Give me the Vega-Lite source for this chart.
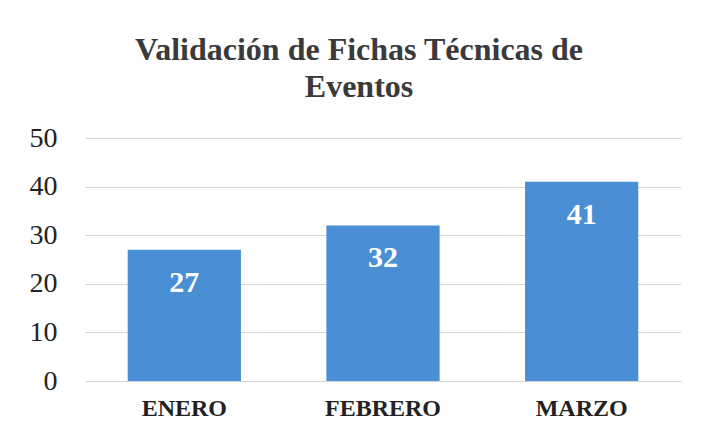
{
  "$schema": "https://vega.github.io/schema/vega-lite/v6.json",
  "autosize": "none",
  "width": 596,
  "height": 243,
  "padding": {"left": 85, "top": 138, "right": 25, "bottom": 53},
  "background": "white",
  "title": {
    "text": ["Validación de Fichas Técnicas de", "Eventos"],
    "font": "Times New Roman, Liberation Serif, serif",
    "fontSize": 32,
    "fontWeight": "bold",
    "color": "#3a3a3a",
    "anchor": "middle",
    "dx": -24,
    "offset": 20,
    "lineHeight": 37
  },
  "data": {
    "values": [
      {"mes": "ENERO", "valor": 27},
      {"mes": "FEBRERO", "valor": 32},
      {"mes": "MARZO", "valor": 41}
    ]
  },
  "encoding": {
    "x": {
      "field": "mes",
      "type": "nominal",
      "sort": null,
      "scale": {"paddingInner": 0.43, "paddingOuter": 0.215},
      "axis": {
        "title": null,
        "labelAngle": 0,
        "labelFont": "Times New Roman, Liberation Serif, serif",
        "labelFontSize": 24,
        "labelFontWeight": "bold",
        "labelColor": "#222222",
        "labelPadding": 15,
        "ticks": false,
        "domain": false
      }
    },
    "y": {
      "field": "valor",
      "type": "quantitative",
      "scale": {"domain": [0, 50]},
      "axis": {
        "title": null,
        "values": [0, 10, 20, 30, 40, 50],
        "labelFont": "Times New Roman, Liberation Serif, serif",
        "labelFontSize": 28,
        "labelColor": "#222222",
        "labelPadding": 28,
        "ticks": false,
        "domain": false,
        "gridColor": "#d4d4d4",
        "gridWidth": 1
      }
    }
  },
  "layer": [
    {"mark": {"type": "bar", "color": "#4a8ed4"}},
    {
      "mark": {
        "type": "text",
        "font": "Times New Roman, Liberation Serif, serif",
        "fontSize": 30,
        "fontWeight": "bold",
        "color": "white",
        "baseline": "middle",
        "dy": 33
      },
      "encoding": {"text": {"field": "valor", "type": "quantitative"}}
    }
  ],
  "config": {"view": {"stroke": null}}
}
